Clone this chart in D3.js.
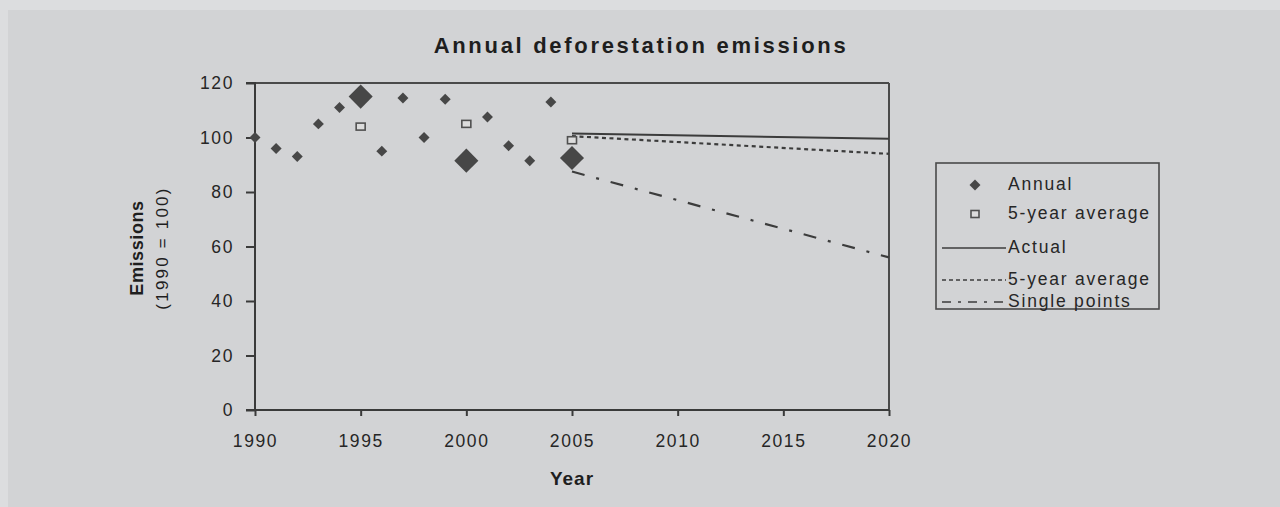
<!DOCTYPE html>
<html><head><meta charset="utf-8">
<script src="https://cdn.jsdelivr.net/npm/d3@7"></script>
<style>body{margin:0;background:#dcdddf;overflow:hidden}svg{display:block}</style>
</head><body>
<svg id="chart" width="1280" height="507"></svg>
<script>
// ---- data ----
const annualYears  = [1990,1991,1992,1993,1994,1995,1996,1997,1998,1999,2000,2001,2002,2003,2004,2005];
const annualValues = [100,96,93,105,111,115,95,114.5,100,114,91.5,107.5,97,91.5,113,92.5];
const highlightYears = [1995,2000,2005];
const avgYears  = [1995,2000,2005];
const avgValues = [104,105,99];
const projYears = [2005,2020];
const actualValues = [101.5,99.5];
const avg5Values   = [100.5,94];
const singleValues = [87.5,56];
const xTicks = [1990,1995,2000,2005,2010,2015,2020];
const yTicks = [0,20,40,60,80,100,120];
const legendLabels = ["Annual","5-year average","Actual","5-year average","Single points"];

const svg = d3.select("#chart");
const FONT = "'Liberation Sans', Arial, sans-serif";
const ink = "#262626";

svg.append("rect").attr("width",1280).attr("height",507).attr("fill","#dcdddf");
svg.append("rect").attr("x",8).attr("y",10).attr("width",1272).attr("height",497).attr("fill","#d2d3d5");

const x = d3.scaleLinear().domain([1990,2020]).range([255,889]);
const y = d3.scaleLinear().domain([0,120]).range([410,83]);

// frame (top & right)
svg.append("line").attr("x1",x(1990)).attr("x2",x(2020)).attr("y1",y(120)).attr("y2",y(120))
  .attr("stroke","#4a4a4a").attr("stroke-width",2);
svg.append("line").attr("x1",x(2020)).attr("x2",x(2020)).attr("y1",y(120)).attr("y2",y(0))
  .attr("stroke","#4a4a4a").attr("stroke-width",2);

// axes
const yAxis = svg.append("g").attr("transform",`translate(${x(1990)},0)`)
  .call(d3.axisLeft(y).tickValues(yTicks).tickSize(9).tickPadding(12));
const xAxis = svg.append("g").attr("transform",`translate(0,${y(0)})`)
  .call(d3.axisBottom(x).tickValues(xTicks).tickSize(6).tickPadding(19).tickFormat(d3.format("d")));
[xAxis,yAxis].forEach(g=>{
  g.select(".domain").attr("stroke","#3a3a3a").attr("stroke-width",2);
  g.selectAll(".tick line").attr("stroke","#3a3a3a").attr("stroke-width",2);
  g.selectAll("text").attr("fill",ink).style("font-family",FONT).style("font-size","17.5px").style("letter-spacing","1.6px");
});
yAxis.select(".domain").attr("d",`M-9,${y(120)}H0V${y(0)}`);
xAxis.select(".domain").attr("d",`M${x(1990)-9},0H${x(2020)}`);

// title and axis titles
svg.append("text").attr("x",641).attr("y",53).attr("text-anchor","middle")
  .style("font-family",FONT).style("font-weight","bold").style("font-size","22px").style("letter-spacing","2.7px")
  .attr("fill","#1e1e1e").text("Annual deforestation emissions");
svg.append("text").attr("x",572).attr("y",485).attr("text-anchor","middle")
  .style("font-family",FONT).style("font-weight","bold").style("font-size","19px").style("letter-spacing","1px")
  .attr("fill","#1e1e1e").text("Year");
const yl = svg.append("g").attr("transform","translate(143,248) rotate(-90)");
yl.append("text").attr("text-anchor","middle").attr("y",0)
  .style("font-family",FONT).style("font-weight","bold").style("font-size","18px").style("letter-spacing","0.6px")
  .attr("fill","#1e1e1e").text("Emissions");
yl.append("text").attr("text-anchor","middle").attr("y",25)
  .style("font-family",FONT).style("font-size","17px").style("letter-spacing","2.2px")
  .attr("fill","#1e1e1e").text("(1990 = 100)");

// projection lines
const line = d3.line().x(d=>x(d[0])).y(d=>y(d[1]));
const lineColor = "#3c3c3c";
svg.append("path").datum(projYears.map((yr,i)=>[yr,actualValues[i]])).attr("d",line)
  .attr("fill","none").attr("stroke",lineColor).attr("stroke-width",2);
svg.append("path").datum(projYears.map((yr,i)=>[yr,avg5Values[i]])).attr("d",line)
  .attr("fill","none").attr("stroke",lineColor).attr("stroke-width",2.2).attr("stroke-dasharray","4,3.5");
svg.append("path").datum(projYears.map((yr,i)=>[yr,singleValues[i]])).attr("d",line)
  .attr("fill","none").attr("stroke",lineColor).attr("stroke-width",2.2).attr("stroke-dasharray","13,12,3,12");

// markers
const markColor = "#474747";
const diamond = s => d3.symbol(d3.symbolSquare, s)();
svg.append("g").selectAll("path").data(annualYears.map((yr,i)=>({yr,v:annualValues[i]})))
  .join("path")
  .attr("d",d=>diamond(highlightYears.includes(d.yr)?290:60))
  .attr("transform",d=>`translate(${x(d.yr)},${y(d.v)}) rotate(45)`)
  .attr("fill",markColor);
svg.append("g").selectAll("rect").data(avgYears.map((yr,i)=>({yr,v:avgValues[i]})))
  .join("rect")
  .attr("x",d=>x(d.yr)-4.5).attr("y",d=>y(d.v)-3.5).attr("width",9).attr("height",7)
  .attr("fill","#dcdcdc").attr("stroke","#505050").attr("stroke-width",1.6);

// legend
const lg = svg.append("g");
lg.append("rect").attr("x",936).attr("y",163).attr("width",223).attr("height",146)
  .attr("fill","none").attr("stroke","#4a4a4a").attr("stroke-width",1.6);
const rowsY = [185,214,248,280,302];
const textStyle = sel => sel.style("font-family",FONT).style("font-size","17.5px").style("letter-spacing","1.8px").attr("fill",ink).attr("dominant-baseline","middle");
lg.append("path").attr("d",diamond(60)).attr("transform",`translate(975,${rowsY[0]}) rotate(45)`).attr("fill",markColor);
lg.append("rect").attr("x",971).attr("y",rowsY[1]-3.5).attr("width",8).attr("height",7)
  .attr("fill","#dcdcdc").attr("stroke","#505050").attr("stroke-width",1.6);
lg.append("line").attr("x1",942).attr("x2",1006).attr("y1",rowsY[2]).attr("y2",rowsY[2]).attr("stroke",lineColor).attr("stroke-width",1.6);
lg.append("line").attr("x1",942).attr("x2",1006).attr("y1",rowsY[3]).attr("y2",rowsY[3]).attr("stroke",lineColor).attr("stroke-width",1.6).attr("stroke-dasharray","4,3");
lg.append("line").attr("x1",942).attr("x2",1006).attr("y1",rowsY[4]).attr("y2",rowsY[4]).attr("stroke",lineColor).attr("stroke-width",1.6).attr("stroke-dasharray","9,7,3,7");
legendLabels.forEach((t,i)=>{
  lg.append("text").attr("x",1008).attr("y",rowsY[i]).text(t).call(textStyle);
});
</script>
</body></html>
